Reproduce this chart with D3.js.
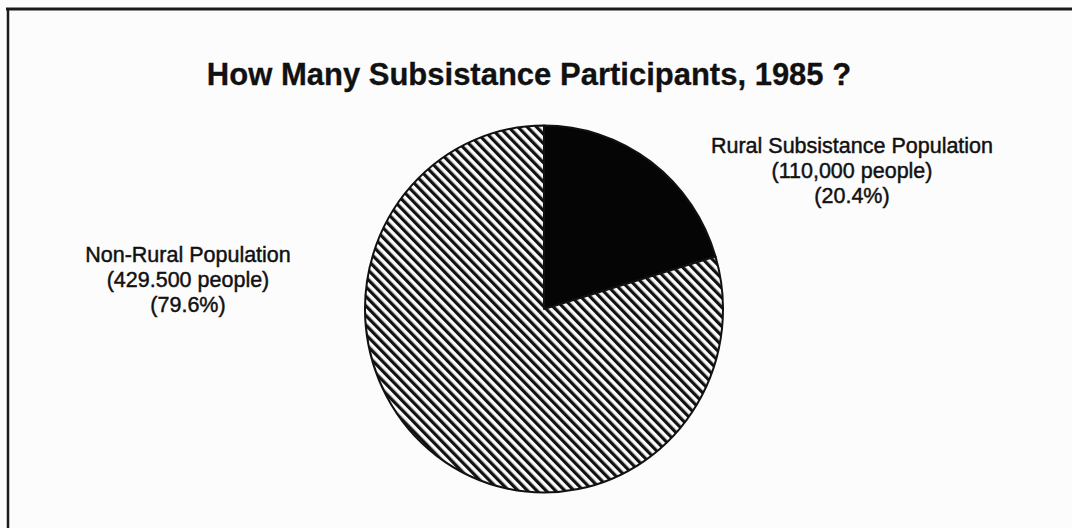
<!DOCTYPE html>
<html>
<head>
<meta charset="utf-8">
<script src="https://cdn.jsdelivr.net/npm/d3@7"></script>
<style>
  html, body { margin: 0; padding: 0; background: #fcfcfc; }
  svg { display: block; }
  text { font-family: "Liberation Sans", Arial, Helvetica, sans-serif; fill: #111; }
</style>
</head>
<body>
<script>
// Subsistance participants, 1985
const categories = ["Rural Subsistance Population", "Non-Rural Population"];
const people = [110000, 429500];
const peopleLabels = ["(110,000 people)", "(429.500 people)"];
const percentLabels = ["(20.4%)", "(79.6%)"];
const title = "How Many Subsistance Participants, 1985 ?";

const W = 1072, H = 528;
const svg = d3.select("body").append("svg").attr("width", W).attr("height", H);

svg.append("rect").attr("width", W).attr("height", H).attr("fill", "#fcfcfc");

// Frame: top rule and left rule
svg.append("line").attr("x1", 6).attr("x2", W).attr("y1", 9).attr("y2", 9)
  .attr("stroke", "#1a1a1a").attr("stroke-width", 3);
svg.append("line").attr("x1", 8).attr("x2", 8).attr("y1", 8).attr("y2", H)
  .attr("stroke", "#1a1a1a").attr("stroke-width", 2.5);

// Diagonal hatch fill
const defs = svg.append("defs");
const hatch = defs.append("pattern")
  .attr("id", "hatch")
  .attr("patternUnits", "userSpaceOnUse")
  .attr("width", 6.6).attr("height", 6.6)
  .attr("patternTransform", "rotate(-45)");
hatch.append("rect").attr("width", 6.6).attr("height", 6.6).attr("fill", "#fafafa");
hatch.append("line").attr("x1", 1.6).attr("x2", 1.6).attr("y1", 0).attr("y2", 6.6)
  .attr("stroke", "#111").attr("stroke-width", 3.2);

const fills = ["#050505", "url(#hatch)"];

svg.append("text")
  .attr("x", 529).attr("y", 85)
  .attr("text-anchor", "middle")
  .attr("font-size", 31).attr("font-weight", "bold")
  .attr("stroke", "#111").attr("stroke-width", 0.3)
  .text(title);

// Pie
const cx = 544, cy = 309, r = 179, yStretch = 1.025;
const pie = d3.pie().sort(null).value(d => d);
const arc = d3.arc().innerRadius(0).outerRadius(r);

const g = svg.append("g").attr("transform", `translate(${cx},${cy}) scale(1,${yStretch})`);
g.selectAll("path.slice")
  .data(pie(people))
  .join("path")
  .attr("class", "slice")
  .attr("d", arc)
  .attr("fill", (d, i) => fills[i])
  .attr("stroke", "#111")
  .attr("stroke-width", 2)
  .attr("stroke-linejoin", "round");

// Slice labels
const labelPos = [[852, 153], [188, 262]];
const lineGap = 25;
categories.forEach((c, i) => {
  const t = svg.append("text")
    .attr("text-anchor", "middle")
    .attr("font-size", 21.5)
    .attr("stroke", "#111").attr("stroke-width", 0.45);
  [c, peopleLabels[i], percentLabels[i]].forEach((s, k) => {
    t.append("tspan")
      .attr("x", labelPos[i][0])
      .attr("y", labelPos[i][1] + k * lineGap)
      .text(s);
  });
});
</script>
</body>
</html>
